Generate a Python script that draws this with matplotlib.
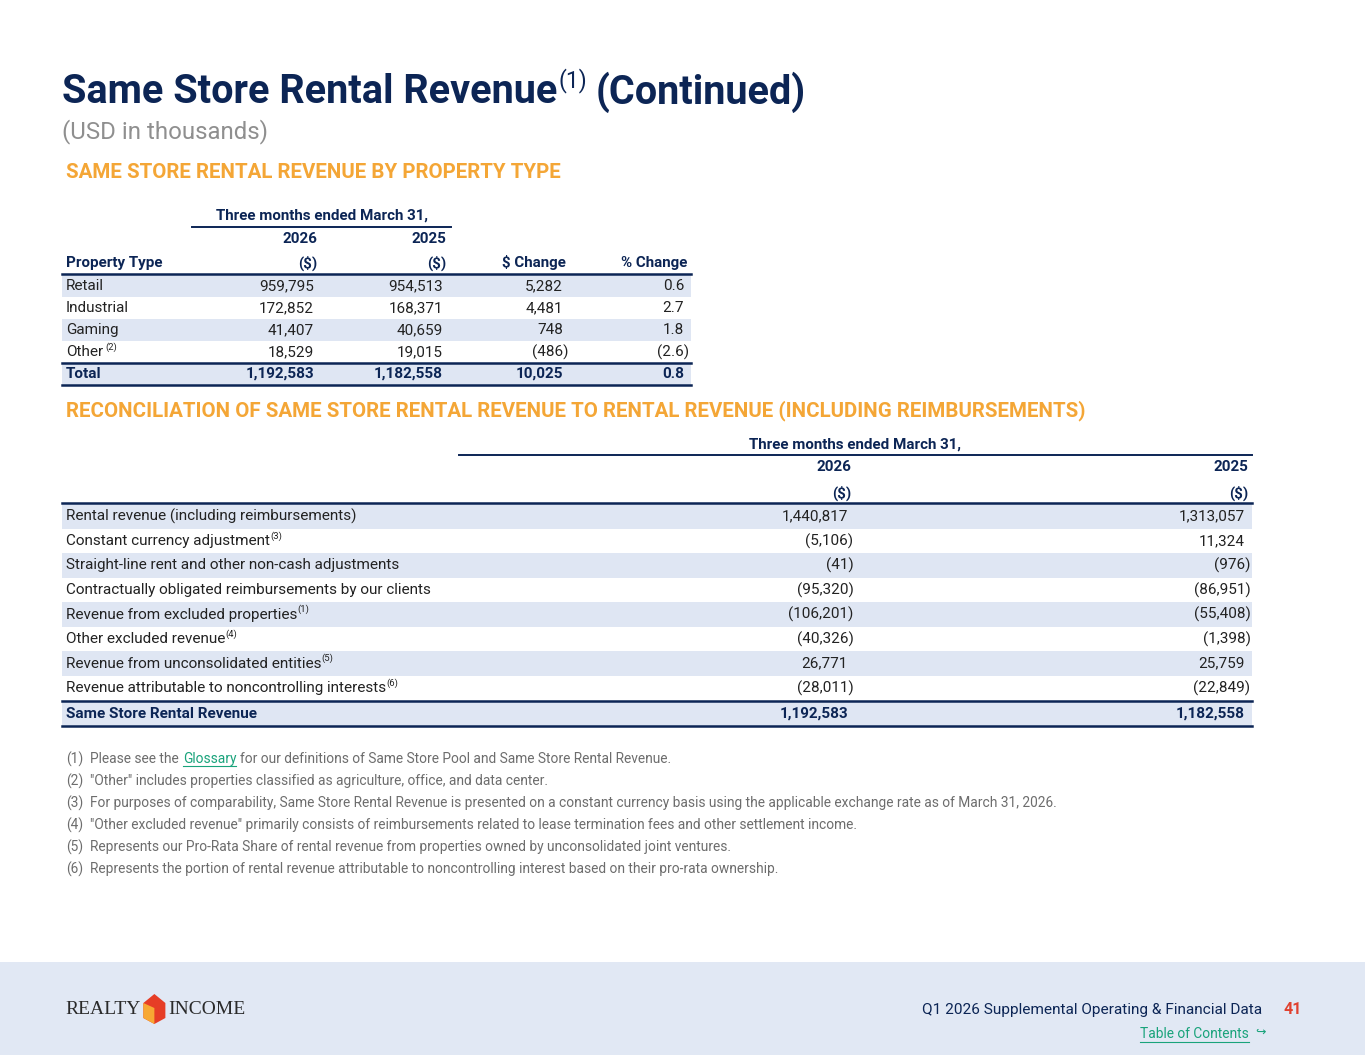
"""
Same Store Rental Revenue (Continued) — página 41 del suplemento Q1 2026.
Reproduce las dos tablas, notas al pie y el pie de página.
"""

import matplotlib
matplotlib.use('Agg')
import matplotlib.pyplot as plt
from matplotlib.patches import Rectangle, Polygon

# --- Datos -------------------------------------------------------------------
tipos = ['Retail', 'Industrial', 'Gaming', 'Other']
tipos_sup = ['', '', '', '(2)']
rev_2026 = [959795, 172852, 41407, 18529]
rev_2025 = [954513, 168371, 40659, 19015]
cambio_usd = [5282, 4481, 748, -486]
cambio_pct = [0.6, 2.7, 1.8, -2.6]
total_2026, total_2025, total_cambio, total_pct = 1192583, 1182558, 10025, 0.8

conceptos = ['Rental revenue (including reimbursements)',
             'Constant currency adjustment',
             'Straight-line rent and other non-cash adjustments',
             'Contractually obligated reimbursements by our clients',
             'Revenue from excluded properties',
             'Other excluded revenue',
             'Revenue from unconsolidated entities',
             'Revenue attributable to noncontrolling interests']
conceptos_sup = ['', '(3)', '', '', '(1)', '(4)', '(5)', '(6)']
rec_2026 = [1440817, -5106, -41, -95320, -106201, -40326, 26771, -28011]
rec_2025 = [1313057, 11324, -976, -86951, -55408, -1398, 25759, -22849]
same_store_2026, same_store_2025 = 1192583, 1182558

notas = ['Please see the Glossary for our definitions of Same Store Pool and Same Store Rental Revenue.',
         '"Other" includes properties classified as agriculture, office, and data center.',
         'For purposes of comparability, Same Store Rental Revenue is presented on a constant currency basis '
         'using the applicable exchange rate as of March 31, 2026.',
         '"Other excluded revenue" primarily consists of reimbursements related to lease termination fees '
         'and other settlement income.',
         'Represents our Pro-Rata Share of rental revenue from properties owned by unconsolidated joint ventures.',
         'Represents the portion of rental revenue attributable to noncontrolling interest based on their '
         'pro-rata ownership.']

# --- Estilos -----------------------------------------------------------------
NAVY = '#0c2555'
ORANGE = '#f4a636'
GRIS = '#6d6d6d'
SOMBRA = '#dfe6f3'
TEAL = '#19a37b'
TXT = '#222222'
FS = 11        # cuerpo de tabla
FH = 10.9      # encabezados de tabla
FN = 9.9       # notas
FT = 28.5      # título
FSEC = 14.8    # títulos de sección
plt.rcParams['font.family'] = ['Roboto', 'DejaVu Sans']


def fmt_num(v):
    s = f'{abs(v):,}'
    return f'({s})' if v < 0 else s


def fmt_pct(v):
    s = f'{abs(v):.1f}'
    return f'({s})' if v < 0 else s


fig = plt.figure(figsize=(13.65, 10.55), dpi=100)
ax = fig.add_axes([0, 0, 1, 1])
ax.set_xlim(0, 1365)
ax.set_ylim(1055, 0)
ax.axis('off')
rend = fig.canvas.get_renderer()


def valor(x, y, s, **kw):
    # los paréntesis de cierre cuelgan a la derecha de la columna
    dx = 5.5 if s.endswith(')') else 0
    ax.text(x + dx, y, s, ha='right', va='center', **kw)


def con_super(x, y, s, sup, size, color, weight='normal', sup_dx=0):
    t = ax.text(x, y, s, ha='left', va='center', fontsize=size, color=color, fontweight=weight)
    if sup:
        bb = t.get_window_extent(rend)
        ax.text(bb.x1 + sup_dx, y - 5, sup, ha='left', va='center',
                fontsize=size * 0.62, color=color)
    return t


# --- Títulos -----------------------------------------------------------------
t = ax.text(62, 92, 'Same Store Rental Revenue', fontsize=FT, fontweight='bold',
            color=NAVY, va='center', ha='left')
bb = t.get_window_extent(rend)
s1 = ax.text(bb.x1 + 1, 81, '(1)', fontsize=16.5, color=NAVY, va='center', ha='left')
bb = s1.get_window_extent(rend)
ax.text(bb.x1 + 8, 92, '(Continued)', fontsize=FT, fontweight='bold',
        color=NAVY, va='center', ha='left')
ax.text(62, 132, '(USD in thousands)', fontsize=17.3, color='#8f8f8f', va='center')
ax.text(66, 173, 'SAME STORE RENTAL REVENUE BY PROPERTY TYPE', fontsize=FSEC,
        fontweight='bold', color=ORANGE, va='center')

# --- Tabla 1 -----------------------------------------------------------------
ax.text(322, 216, 'Three months ended March 31,', fontsize=FH, fontweight='bold',
        color=NAVY, ha='center', va='center')
ax.plot([192, 451], [227, 227], color=NAVY, lw=1.4)
cols1 = [314, 443, 563, 684]
for x, s in zip(cols1[:2], ['2026', '2025']):
    ax.text(x + 3, 239, s, fontsize=FH, fontweight='bold', color=NAVY, ha='right', va='center')
ax.text(66, 263, 'Property Type', fontsize=FH, fontweight='bold', color=NAVY, va='center')
for x, s in zip(cols1, ['($)', '($)', '$ Change', '% Change']):
    ax.text(x + 3, 263, s, fontsize=FH, fontweight='bold', color=NAVY, ha='right', va='center')
ax.plot([62, 691], [274, 274], color=NAVY, lw=1.8)

h1 = 22
y_ini = 286
for i, tipo in enumerate(tipos):
    y = y_ini + i * h1
    if i % 2 == 0:
        ax.add_patch(Rectangle((62, y - h1 / 2), 629, h1, color=SOMBRA, lw=0, zorder=0))
    con_super(66, y, tipo, tipos_sup[i], FS, TXT, sup_dx=2)
    fila = [fmt_num(rev_2026[i]), fmt_num(rev_2025[i]), fmt_num(cambio_usd[i]), fmt_pct(cambio_pct[i])]
    for x, s in zip(cols1, fila):
        valor(x, y, s, fontsize=FS, color=TXT)

y = y_ini + len(tipos) * h1
ax.add_patch(Rectangle((62, y - h1 / 2), 629, h1, color=SOMBRA, lw=0, zorder=0))
ax.plot([62, 691], [y - h1 / 2, y - h1 / 2], color=NAVY, lw=1.8)
ax.plot([62, 691], [y + h1 / 2, y + h1 / 2], color=NAVY, lw=1.8)
ax.text(66, y, 'Total', fontsize=FS, fontweight='bold', color=NAVY, va='center')
fila = [fmt_num(total_2026), fmt_num(total_2025), fmt_num(total_cambio), fmt_pct(total_pct)]
for x, s in zip(cols1, fila):
    valor(x, y, s, fontsize=FS, fontweight='bold', color=NAVY)

# --- Tabla 2 -----------------------------------------------------------------
ax.text(66, 411, 'RECONCILIATION OF SAME STORE RENTAL REVENUE TO RENTAL REVENUE (INCLUDING REIMBURSEMENTS)',
        fontsize=FSEC, fontweight='bold', color=ORANGE, va='center')
ax.text(855, 445, 'Three months ended March 31,', fontsize=FH, fontweight='bold',
        color=NAVY, ha='center', va='center')
ax.plot([459, 1252], [455, 455], color=NAVY, lw=1.4)
cols2 = [848, 1245]
for x, s in zip(cols2, ['2026', '2025']):
    ax.text(x + 3, 467, s, fontsize=FH, fontweight='bold', color=NAVY, ha='right', va='center')
    ax.text(x + 3, 493, '($)', fontsize=FH, fontweight='bold', color=NAVY, ha='right', va='center')
ax.plot([62, 1252], [503, 503], color=NAVY, lw=1.8)

h2 = 24.5
y_ini = 516.5
for i, c in enumerate(conceptos):
    y = y_ini + i * h2
    if i % 2 == 0:
        ax.add_patch(Rectangle((62, y - h2 / 2), 1190, h2, color=SOMBRA, lw=0, zorder=0))
    con_super(66, y, c, conceptos_sup[i], FS, TXT)
    for x, v in zip(cols2, [rec_2026[i], rec_2025[i]]):
        valor(x, y, fmt_num(v), fontsize=FS, color=TXT)

y = y_ini + len(conceptos) * h2 + 1
ax.add_patch(Rectangle((62, y - h2 / 2), 1190, h2, color=SOMBRA, lw=0, zorder=0))
ax.plot([62, 1252], [y - h2 / 2, y - h2 / 2], color=NAVY, lw=1.8)
ax.plot([62, 1252], [y + h2 / 2, y + h2 / 2], color=NAVY, lw=1.8)
ax.text(66, y, 'Same Store Rental Revenue', fontsize=FS, fontweight='bold', color=NAVY, va='center')
for x, v in zip(cols2, [same_store_2026, same_store_2025]):
    valor(x, y, fmt_num(v), fontsize=FS, fontweight='bold', color=NAVY)

# --- Notas al pie ------------------------------------------------------------
for i, nota in enumerate(notas):
    y = 759 + i * 22
    ax.text(66, y, f'({i + 1})', fontsize=FN, color=GRIS, va='center')
    if 'Glossary' in nota:
        antes, despues = nota.split('Glossary')
        t = ax.text(90, y, antes.rstrip(), fontsize=FN, color=GRIS, va='center')
        x1 = t.get_window_extent(rend).x1 + 4
        g = ax.text(x1, y, 'Glossary', fontsize=FN, color=TEAL, va='center')
        gb = g.get_window_extent(rend)
        ax.plot([gb.x0, gb.x1], [y + 7, y + 7], color=TEAL, lw=0.8)
        ax.text(gb.x1 + 4, y, despues.lstrip(), fontsize=FN, color=GRIS, va='center')
    else:
        ax.text(90, y, nota, fontsize=FN, color=GRIS, va='center')

# --- Pie de página -----------------------------------------------------------
ax.add_patch(Rectangle((0, 962), 1365, 93, color='#e1e8f4', lw=0, zorder=0))
serif = ['Liberation Serif', 'DejaVu Serif']
t = ax.text(65, 1009, 'REALTY', fontsize=14, family=serif, color='#2a2a2a', va='center')
x0 = t.get_window_extent(rend).x1 + 3
ax.add_patch(Polygon([[x0, 1003], [x0 + 11, 994], [x0 + 22, 1003], [x0 + 22, 1018],
                      [x0 + 11, 1024], [x0, 1018]], closed=True, color='#e63d26', lw=0))
ax.add_patch(Polygon([[x0, 1003], [x0 + 11, 1008], [x0 + 11, 1024], [x0, 1018]],
                     closed=True, color='#f7a833', lw=0))
ax.text(x0 + 25, 1009, 'INCOME', fontsize=14, family=serif, color='#2a2a2a', va='center')

ax.text(1262, 1010, 'Q1 2026 Supplemental Operating & Financial Data', fontsize=11.1,
        color=NAVY, ha='right', va='center')
ax.text(1302, 1010, '41', fontsize=11.5, fontweight='bold', color='#e0412f', ha='right', va='center')
t = ax.text(1249, 1034, 'Table of Contents', fontsize=9.9, color=TEAL, ha='right', va='center')
tb = t.get_window_extent(rend)
ax.plot([tb.x0, tb.x1], [1042, 1042], color=TEAL, lw=0.8)
ax.text(1255, 1032, '↪', fontsize=9, color=TEAL, ha='left', va='center',
        family=['DejaVu Sans'])

fig.savefig('out.png', dpi=100, facecolor='white')
plt.close(fig)
